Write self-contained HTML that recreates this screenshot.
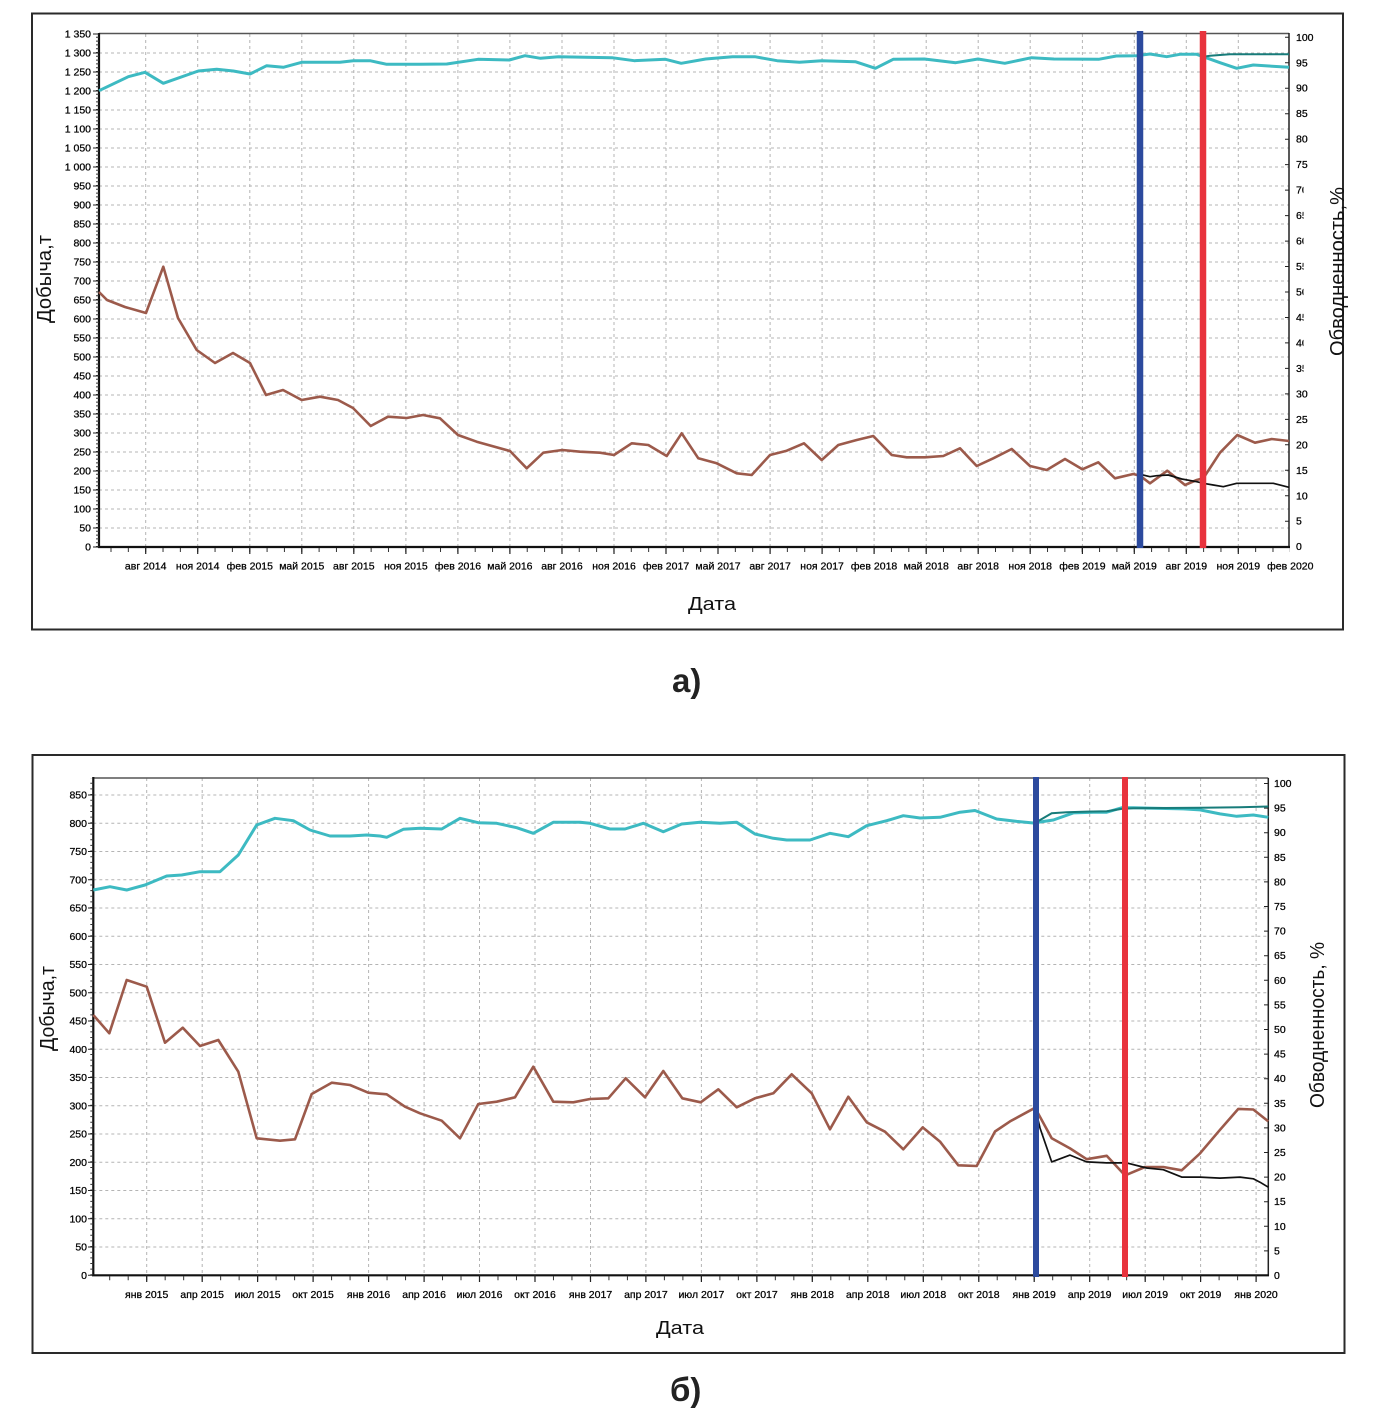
<!DOCTYPE html>
<html><head><meta charset="utf-8"><style>
html,body{margin:0;padding:0;background:#fff;}
svg{display:block;}
text{font-family:"Liberation Sans",sans-serif;}
.t{font-size:10.5px;fill:#000;stroke:#000;stroke-width:0.25;}
.g{stroke:#b4b4b4;stroke-width:1;stroke-dasharray:3 3;fill:none;}
</style></head><body>
<svg width="1376" height="1422" viewBox="0 0 1376 1422" xmlns="http://www.w3.org/2000/svg">
<rect width="1376" height="1422" fill="#fff"/>

<!-- ================= TOP CHART ================= -->
<rect x="32" y="13.5" width="1311" height="616" fill="none" stroke="#2a2a2a" stroke-width="2"/>
<!-- grid -->
<path class="g" d="M99 528H1289M99 509H1289M99 490H1289M99 471H1289M99 452H1289M99 433H1289M99 414H1289M99 395H1289M99 376H1289M99 357H1289M99 338H1289M99 319H1289M99 300H1289M99 281H1289M99 262H1289M99 243H1289M99 224H1289M99 205H1289M99 186H1289M99 167H1289M99 148H1289M99 129H1289M99 110H1289M99 91H1289M99 72H1289M99 53H1289"/>
<path class="g" d="M145.7 34V547M197.7 34V547M249.8 34V547M301.8 34V547M353.8 34V547M405.9 34V547M457.9 34V547M509.9 34V547M562 34V547M614 34V547M666 34V547M718 34V547M770.1 34V547M822.1 34V547M874.1 34V547M926.2 34V547M978.2 34V547M1030.2 34V547M1082.4 34V547M1134.3 34V547M1186.3 34V547M1238.3 34V547"/>
<!-- plot border -->
<line x1="99" y1="33.5" x2="1289" y2="33.5" stroke="#555" stroke-width="1.5"/>
<line x1="1289" y1="33" x2="1289" y2="548" stroke="#222" stroke-width="1.5"/>
<line x1="99" y1="33" x2="99" y2="548" stroke="#111" stroke-width="2.2"/>
<line x1="98" y1="547" x2="1290" y2="547" stroke="#111" stroke-width="2.2"/>
<!-- ticks -->
<path d="M97.5 547V34" stroke="#333" stroke-width="3" stroke-dasharray="1 2.8" fill="none"/>
<path d="M93 547H99M93 528H99M93 509H99M93 490H99M93 471H99M93 452H99M93 433H99M93 414H99M93 395H99M93 376H99M93 357H99M93 338H99M93 319H99M93 300H99M93 281H99M93 262H99M93 243H99M93 224H99M93 205H99M93 186H99M93 167H99M93 148H99M93 129H99M93 110H99M93 91H99M93 72H99M93 53H99M93 34H99" stroke="#222" stroke-width="1"/>
<path d="M110.5 550H1290" stroke="#333" stroke-width="4" stroke-dasharray="1 16.343" fill="none"/>
<path d="M145.7 547V554M197.7 547V554M249.8 547V554M301.8 547V554M353.8 547V554M405.9 547V554M457.9 547V554M509.9 547V554M562 547V554M614 547V554M666 547V554M718 547V554M770.1 547V554M822.1 547V554M874.1 547V554M926.2 547V554M978.2 547V554M1030.2 547V554M1082.4 547V554M1134.3 547V554M1186.3 547V554M1238.3 547V554" stroke="#222" stroke-width="1.2"/>
<path d="M1285 37.3H1289M1285 62.8H1289M1285 88.2H1289M1285 113.7H1289M1285 139.2H1289M1285 164.6H1289M1285 190.1H1289M1285 215.6H1289M1285 241.1H1289M1285 266.5H1289M1285 292H1289M1285 317.5H1289M1285 342.9H1289M1285 368.4H1289M1285 393.9H1289M1285 419.4H1289M1285 444.8H1289M1285 470.3H1289M1285 495.8H1289M1285 521.2H1289" stroke="#222" stroke-width="1"/>

<!-- series -->
<polyline fill="none" stroke="#3dbac2" stroke-width="3" stroke-linejoin="round" points="99,90.7 128.3,76.7 145,72.3 163.3,83.3 198.3,71 216.7,69.3 233.3,71 250,74 266.7,65.7 283.3,67.3 301.7,62.3 340,62.3 353.3,60.7 370,60.7 386.7,64.3 420,64.3 446.8,64 478,59.3 509.3,60 525,55.7 540.5,58.3 558.4,56.7 612,57.7 634.3,60.7 665.5,59.3 681.2,63.3 705.7,59 732.5,56.7 754.8,56.7 777.1,60.7 799.5,62.3 821.8,60.7 855.3,61.7 875.4,68.3 893.2,59.3 924.5,59 955.7,62.7 978,59 1004.8,63.3 1031.6,57.7 1053.9,59 1098.6,59.3 1116.4,56 1136.7,55.7 1150,54 1166.7,56.7 1180,54.3 1196.7,54.3 1203.3,56.7 1220,62.7 1236.7,68.3 1253.3,65 1289,67.3"/>
<polyline fill="none" stroke="#187c7a" stroke-width="2" points="1203.3,56.7 1210,55.7 1230,54.3 1289,54.3"/>
<polyline fill="none" stroke="#9c5a4b" stroke-width="2.6" stroke-linejoin="round" points="99,292 107,300 125,307 146,313 163.3,266.7 178,318 196.7,350 215,363 233,353 250,363 266,395 283,390 301.7,400 320,396.7 338,400 353,408 370.7,426 388,416.7 406.7,418 423,415 440,418.3 458,435 476.7,441.7 510,451 526.7,468.3 543.3,452.7 562.3,450 580,451.7 600,452.7 614,455 631.7,443.3 648.3,445 666.7,456 681.7,433.3 698.3,458.3 716.7,463.3 736.7,473.3 751.7,475 770,455 786.7,450.7 804,443.3 821.7,460 838.3,445 856.7,440 873.3,436 891.7,455 906.7,457.3 925,457.3 943.3,456 960,448.3 976.7,466 993.3,458.3 1011.7,449 1030,466 1046.7,470 1065,459 1082.3,469.3 1098.3,462.3 1115,478.3 1133.3,474 1140,475.7 1150,483.3 1167.3,470.7 1185,485 1196.7,480 1203.3,478.3 1220,452.7 1237.3,435 1255,442.7 1271.7,439 1289,441"/>
<polyline fill="none" stroke="#111" stroke-width="1.7" stroke-linejoin="round" points="1140,474.3 1150,476.7 1156.7,475.7 1168.3,475 1181.7,479 1196.7,481.7 1203.3,483.3 1213.3,485 1223.3,486.7 1236.7,483.3 1273.3,483.3 1289,487.3"/>
<!-- markers -->
<line x1="1140" y1="31" x2="1140" y2="548" stroke="#2c4a9e" stroke-width="6.5"/>
<line x1="1203" y1="31" x2="1203" y2="548" stroke="#e8333d" stroke-width="6.5"/>

<!-- left labels -->
<g class="t" text-anchor="end">
<text x="91" y="550.5">0</text><text x="91" y="531.5">50</text><text x="91" y="512.5">100</text><text x="91" y="493.5">150</text><text x="91" y="474.5">200</text><text x="91" y="455.5">250</text><text x="91" y="436.5">300</text><text x="91" y="417.5">350</text><text x="91" y="398.5">400</text><text x="91" y="379.5">450</text><text x="91" y="360.5">500</text><text x="91" y="341.5">550</text><text x="91" y="322.5">600</text><text x="91" y="303.5">650</text><text x="91" y="284.5">700</text><text x="91" y="265.5">750</text><text x="91" y="246.5">800</text><text x="91" y="227.5">850</text><text x="91" y="208.5">900</text><text x="91" y="189.5">950</text><text x="91" y="170.5">1 000</text><text x="91" y="151.5">1 050</text><text x="91" y="132.5">1 100</text><text x="91" y="113.5">1 150</text><text x="91" y="94.5">1 200</text><text x="91" y="75.5">1 250</text><text x="91" y="56.5">1 300</text><text x="91" y="37.5">1 350</text>
</g>
<!-- right labels -->
<g class="t">
<text x="1296" y="40.8">100</text><text x="1296" y="66.3">95</text><text x="1296" y="91.7">90</text><text x="1296" y="117.2">85</text><text x="1296" y="142.7">80</text><text x="1296" y="168.1">75</text><text x="1296" y="193.6">70</text><text x="1296" y="219.1">65</text><text x="1296" y="244.6">60</text><text x="1296" y="270">55</text><text x="1296" y="295.5">50</text><text x="1296" y="321">45</text><text x="1296" y="346.4">40</text><text x="1296" y="371.9">35</text><text x="1296" y="397.4">30</text><text x="1296" y="422.9">25</text><text x="1296" y="448.3">20</text><text x="1296" y="473.8">15</text><text x="1296" y="499.3">10</text><text x="1296" y="524.7">5</text><text x="1296" y="550.2">0</text>
</g>
<rect x="1303.5" y="178" width="22" height="202" fill="#fff"/>
<!-- x labels -->
<g class="t" text-anchor="middle">
<text x="145.7" y="569.5">авг 2014</text><text x="197.7" y="569.5">ноя 2014</text><text x="249.8" y="569.5">фев 2015</text><text x="301.8" y="569.5">май 2015</text><text x="353.8" y="569.5">авг 2015</text><text x="405.9" y="569.5">ноя 2015</text><text x="457.9" y="569.5">фев 2016</text><text x="509.9" y="569.5">май 2016</text><text x="562" y="569.5">авг 2016</text><text x="614" y="569.5">ноя 2016</text><text x="666" y="569.5">фев 2017</text><text x="718" y="569.5">май 2017</text><text x="770.1" y="569.5">авг 2017</text><text x="822.1" y="569.5">ноя 2017</text><text x="874.1" y="569.5">фев 2018</text><text x="926.2" y="569.5">май 2018</text><text x="978.2" y="569.5">авг 2018</text><text x="1030.2" y="569.5">ноя 2018</text><text x="1082.4" y="569.5">фев 2019</text><text x="1134.3" y="569.5">май 2019</text><text x="1186.3" y="569.5">авг 2019</text><text x="1238.3" y="569.5">ноя 2019</text><text x="1290.3" y="569.5">фев 2020</text>
</g>
<!-- titles -->
<text transform="translate(51,279) rotate(-90)" text-anchor="middle" font-size="20" fill="#111" textLength="88" lengthAdjust="spacingAndGlyphs">Добыча,т</text>
<text transform="translate(1344,271.5) rotate(-90)" text-anchor="middle" font-size="20" fill="#111" textLength="169" lengthAdjust="spacingAndGlyphs">Обводненность,%</text>
<text x="712" y="610" text-anchor="middle" font-size="18" fill="#111" textLength="48" lengthAdjust="spacingAndGlyphs">Дата</text>
<text x="672" y="692" font-size="33" font-weight="bold" fill="#222">а)</text>

<!-- ================= BOTTOM CHART ================= -->
<rect x="32.5" y="755" width="1312" height="598" fill="none" stroke="#2a2a2a" stroke-width="2"/>
<path class="g" d="M93.3 1247.05H1268.3M93.3 1218.8H1268.3M93.3 1190.55H1268.3M93.3 1162.3H1268.3M93.3 1134.05H1268.3M93.3 1105.8H1268.3M93.3 1077.55H1268.3M93.3 1049.3H1268.3M93.3 1021.05H1268.3M93.3 992.8H1268.3M93.3 964.55H1268.3M93.3 936.3H1268.3M93.3 908.05H1268.3M93.3 879.8H1268.3M93.3 851.55H1268.3M93.3 823.3H1268.3M93.3 795.05H1268.3"/>
<path class="g" d="M146.7 778V1275M202.2 778V1275M257.6 778V1275M313.1 778V1275M368.6 778V1275M424.1 778V1275M479.5 778V1275M535 778V1275M590.5 778V1275M645.9 778V1275M701.4 778V1275M756.9 778V1275M812.3 778V1275M867.8 778V1275M923.3 778V1275M978.8 778V1275M1034.2 778V1275M1089.7 778V1275M1145.2 778V1275M1200.6 778V1275M1256.1 778V1275"/>
<line x1="93.3" y1="778" x2="1268.3" y2="778" stroke="#555" stroke-width="1.5"/>
<line x1="1268.3" y1="778" x2="1268.3" y2="1276" stroke="#222" stroke-width="1.5"/>
<line x1="93.3" y1="777" x2="93.3" y2="1276" stroke="#111" stroke-width="2.2"/>
<line x1="92" y1="1275.3" x2="1269" y2="1275.3" stroke="#111" stroke-width="2.2"/>
<path d="M91.8 1275.3V778" stroke="#333" stroke-width="3" stroke-dasharray="1 4.65" fill="none"/>
<path d="M88 1275.3H93M88 1247.05H93M88 1218.8H93M88 1190.55H93M88 1162.3H93M88 1134.05H93M88 1105.8H93M88 1077.55H93M88 1049.3H93M88 1021.05H93M88 992.8H93M88 964.55H93M88 936.3H93M88 908.05H93M88 879.8H93M88 851.55H93M88 823.3H93M88 795.05H93" stroke="#222" stroke-width="1"/>
<path d="M109.2 1278.3H1268" stroke="#333" stroke-width="4" stroke-dasharray="1 17.49" fill="none"/>
<path d="M146.7 1275V1282M202.2 1275V1282M257.6 1275V1282M313.1 1275V1282M368.6 1275V1282M424.1 1275V1282M479.5 1275V1282M535 1275V1282M590.5 1275V1282M645.9 1275V1282M701.4 1275V1282M756.9 1275V1282M812.3 1275V1282M867.8 1275V1282M923.3 1275V1282M978.8 1275V1282M1034.2 1275V1282M1089.7 1275V1282M1145.2 1275V1282M1200.6 1275V1282M1256.1 1275V1282" stroke="#222" stroke-width="1.2"/>
<path d="M1264 783.5H1268.3M1264 808.1H1268.3M1264 832.7H1268.3M1264 857.3H1268.3M1264 881.9H1268.3M1264 906.5H1268.3M1264 931.1H1268.3M1264 955.7H1268.3M1264 980.3H1268.3M1264 1004.9H1268.3M1264 1029.5H1268.3M1264 1054.1H1268.3M1264 1078.7H1268.3M1264 1103.3H1268.3M1264 1127.9H1268.3M1264 1152.5H1268.3M1264 1177.1H1268.3M1264 1201.7H1268.3M1264 1226.3H1268.3M1264 1250.9H1268.3" stroke="#222" stroke-width="1"/>

<polyline fill="none" stroke="#3dbac2" stroke-width="3" stroke-linejoin="round" points="93.3,890 110,886.7 126.7,890 145,885 166.7,876 181.7,875 200,871.7 220,871.7 238.3,855 256.7,825 275,818.3 293.3,820.7 310,830 330,836 350,836 366.7,835 380,836 386.7,837.3 403.3,829.3 420,828.3 441.7,829 460,818.3 478.3,822.7 496.7,823.3 516.7,827.7 533.3,833.3 553.3,822.3 580,822.3 590,823.3 610,829 625,829 643.3,823.3 663.3,831.7 681.7,824 700,822.3 720,823.3 736.7,822.3 755,834 773.3,838.3 786.7,840 810,840 830,833.3 848.3,836.7 866.7,825.7 886.7,820.7 903.3,815.7 920,818 940,817.3 960,812.2 975,810.5 996.7,819 1016.7,821.4 1033.3,823 1053.3,820 1073.3,812.9 1093.3,812.2 1106.7,812.2 1121.7,807.8 1133.3,807.8 1183.3,808.9 1200,809.9 1220,813.9 1236.7,816.3 1253.3,815 1268.3,817.3"/>
<polyline fill="none" stroke="#187c7a" stroke-width="2" points="1036,822.4 1051.7,813.2 1066.7,812.2 1086.7,811.6 1106.7,811.2 1121.7,808.9 1133.3,808.2 1200,807.8 1240,807.2 1268.3,806.5"/>
<polyline fill="none" stroke="#9c5a4b" stroke-width="2.6" stroke-linejoin="round" points="93.3,1015 109.3,1033.3 126.7,980 146.7,986.7 165,1042.7 182.7,1027.7 200,1046 218.3,1040 238.3,1071.7 256.7,1138.3 280,1140.7 295,1139.3 311.7,1094 331.7,1082.7 350,1085 368.3,1092.7 386.7,1094.3 405,1106.7 420,1113.3 441.7,1120.7 460,1138.3 478.3,1104 496.7,1101.7 515,1097.3 533.3,1066.7 553.3,1101.7 573.3,1102.3 590,1099 608.3,1098.3 625.7,1078.3 645,1097.3 663.3,1071 682.3,1098.3 700.7,1102.3 718.3,1089.3 736.7,1107.3 755,1098.3 773.3,1093.3 791.7,1074.3 811.7,1093.3 830,1129.3 848.3,1096.7 866.7,1122.3 885,1131.7 903.3,1149.3 922.7,1127.4 940,1141.6 958.3,1165.3 976.7,1166 995,1131.5 1010,1121.4 1035,1107.8 1051.7,1138.2 1070,1148.4 1086.7,1159.2 1106.7,1155.8 1125,1175.4 1145,1167 1163.3,1167 1181.7,1170.3 1200,1153.4 1220,1129.8 1238.3,1108.9 1253.3,1109.5 1268.3,1121.4"/>
<polyline fill="none" stroke="#111" stroke-width="1.7" stroke-linejoin="round" points="1036,1111.2 1040,1128 1051.7,1161.9 1070,1155.1 1086.7,1161.9 1106.7,1162.9 1126.7,1162.9 1146.7,1168 1163.3,1169.7 1181.7,1177.1 1200,1177.1 1220,1178.1 1240,1177.1 1253.3,1178.8 1260,1182.2 1268.3,1187.2"/>
<line x1="1036" y1="777" x2="1036" y2="1277" stroke="#2c4a9e" stroke-width="6"/>
<line x1="1125" y1="777" x2="1125" y2="1277" stroke="#e8333d" stroke-width="6"/>

<g class="t" text-anchor="end">
<text x="87" y="1278.8">0</text><text x="87" y="1250.55">50</text><text x="87" y="1222.3">100</text><text x="87" y="1194.05">150</text><text x="87" y="1165.8">200</text><text x="87" y="1137.55">250</text><text x="87" y="1109.3">300</text><text x="87" y="1081.05">350</text><text x="87" y="1052.8">400</text><text x="87" y="1024.55">450</text><text x="87" y="996.3">500</text><text x="87" y="968.05">550</text><text x="87" y="939.8">600</text><text x="87" y="911.55">650</text><text x="87" y="883.3">700</text><text x="87" y="855.05">750</text><text x="87" y="826.8">800</text><text x="87" y="798.55">850</text>
</g>
<g class="t">
<text x="1274" y="787">100</text><text x="1274" y="811.6">95</text><text x="1274" y="836.2">90</text><text x="1274" y="860.8">85</text><text x="1274" y="885.4">80</text><text x="1274" y="910">75</text><text x="1274" y="934.6">70</text><text x="1274" y="959.2">65</text><text x="1274" y="983.8">60</text><text x="1274" y="1008.4">55</text><text x="1274" y="1033">50</text><text x="1274" y="1057.6">45</text><text x="1274" y="1082.2">40</text><text x="1274" y="1106.8">35</text><text x="1274" y="1131.4">30</text><text x="1274" y="1156">25</text><text x="1274" y="1180.6">20</text><text x="1274" y="1205.2">15</text><text x="1274" y="1229.8">10</text><text x="1274" y="1254.4">5</text><text x="1274" y="1279">0</text>
</g>
<g class="t" text-anchor="middle">
<text x="146.7" y="1298">янв 2015</text><text x="202.2" y="1298">апр 2015</text><text x="257.6" y="1298">июл 2015</text><text x="313.1" y="1298">окт 2015</text><text x="368.6" y="1298">янв 2016</text><text x="424.1" y="1298">апр 2016</text><text x="479.5" y="1298">июл 2016</text><text x="535" y="1298">окт 2016</text><text x="590.5" y="1298">янв 2017</text><text x="645.9" y="1298">апр 2017</text><text x="701.4" y="1298">июл 2017</text><text x="756.9" y="1298">окт 2017</text><text x="812.3" y="1298">янв 2018</text><text x="867.8" y="1298">апр 2018</text><text x="923.3" y="1298">июл 2018</text><text x="978.8" y="1298">окт 2018</text><text x="1034.2" y="1298">янв 2019</text><text x="1089.7" y="1298">апр 2019</text><text x="1145.2" y="1298">июл 2019</text><text x="1200.6" y="1298">окт 2019</text><text x="1256.1" y="1298">янв 2020</text>
</g>
<text transform="translate(54,1008.5) rotate(-90)" text-anchor="middle" font-size="20" fill="#111" textLength="85" lengthAdjust="spacingAndGlyphs">Добыча,т</text>
<text transform="translate(1324,1025) rotate(-90)" text-anchor="middle" font-size="20" fill="#111" textLength="166" lengthAdjust="spacingAndGlyphs">Обводненность, %</text>
<text x="680" y="1334" text-anchor="middle" font-size="18" fill="#111" textLength="48" lengthAdjust="spacingAndGlyphs">Дата</text>
<text x="670" y="1401" font-size="33" font-weight="bold" fill="#222">б)</text>
</svg>
</body></html>
